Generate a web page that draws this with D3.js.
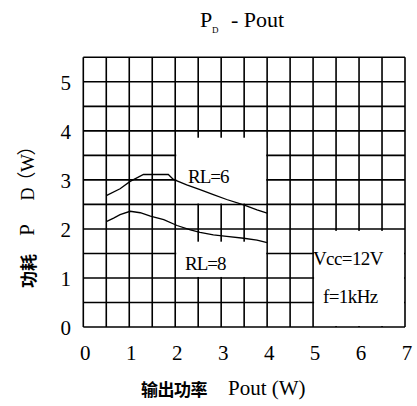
<!DOCTYPE html>
<html>
<head>
<meta charset="utf-8">
<script src="https://cdn.jsdelivr.net/npm/d3@7"></script>
</head>
<body style="margin:0;background:#fff">
<script>
// Power dissipation vs output power
const xTicks = [0, 1, 2, 3, 4, 5, 6, 7];
const yTicks = [0, 1, 2, 3, 4, 5];

const rl6X = [0.5, 0.8, 1.02, 1.31, 1.85, 1.96, 2.25, 2.54, 2.83, 3.12, 3.49, 3.78, 4.0];
const rl6Y = [2.68, 2.82, 2.97, 3.11, 3.11, 3.01, 2.90, 2.80, 2.70, 2.60, 2.49, 2.39, 2.32];

const rl8X = [0.5, 0.66, 0.8, 1.02, 1.24, 1.46, 1.75, 2.04, 2.33, 2.54, 2.83, 3.12, 3.49, 3.78, 4.0];
const rl8Y = [2.15, 2.22, 2.29, 2.36, 2.33, 2.26, 2.19, 2.07, 1.98, 1.93, 1.88, 1.85, 1.81, 1.77, 1.72];

// white boxes that hide part of the grid: [x0, x1, y0, y1]
const boxes = [
    [2, 4, 2.5, 3.86],
    [2, 4, 1.0, 1.74],
    [5, 7, 0, 1.96]
];

const SERIF = "'Times New Roman'";
const CJK = "'Noto Sans CJK SC'";

const width = 417, height = 406;
const svg = d3.select("body").append("svg")
    .attr("width", width)
    .attr("height", height);

const x = d3.scaleLinear().domain([0, 7]).range([83.3, 405]);
const y = d3.scaleLinear().domain([0, 5.5]).range([327, 57.3]);

const grid = svg.append("g").attr("stroke", "#000").attr("stroke-width", 1.6);

// vertical grid lines every 0.5 W
d3.range(0, 7.01, 0.5).forEach(v => {
    grid.append("line")
        .attr("x1", x(v)).attr("x2", x(v))
        .attr("y1", y(0)).attr("y2", y(5.5));
});
// horizontal grid lines every 0.5 W
d3.range(0, 5.51, 0.5).forEach(v => {
    grid.append("line")
        .attr("x1", x(0)).attr("x2", x(7))
        .attr("y1", y(v)).attr("y2", y(v));
});

// boxes (inset so the boundary gridlines stay)
boxes.forEach(b => {
    svg.append("rect")
        .attr("x", x(b[0]) + 1)
        .attr("width", x(b[1]) - x(b[0]) - 2)
        .attr("y", y(b[3]))
        .attr("height", y(b[2]) - y(b[3]) - 1)
        .attr("fill", "#fff");
});

// curves
const line = d3.line().x(d => x(d[0])).y(d => y(d[1]));
[[rl6X, rl6Y], [rl8X, rl8Y]].forEach(([xs, ys]) => {
    svg.append("path")
        .datum(xs.map((v, i) => [v, ys[i]]))
        .attr("d", line)
        .attr("fill", "none")
        .attr("stroke", "#000")
        .attr("stroke-width", 1.3);
});

// text helper
function label(px, py, size, txt, opts = {}) {
    const t = svg.append("text")
        .attr("font-family", opts.cjk ? CJK : SERIF)
        .attr("font-size", size)
        .text(txt);
    if (opts.rotate) t.attr("transform", `translate(${px},${py}) rotate(-90)`);
    else t.attr("x", px).attr("y", py);
    if (opts.cjk) t.attr("font-weight", 700);
    if (opts.anchor) t.attr("text-anchor", opts.anchor);
    if (opts.ls) t.attr("letter-spacing", opts.ls);
    return t;
}

// tick labels
yTicks.forEach(d => label(71, y(d) + 8, 21, String(d), { anchor: "end" }));
xTicks.forEach(d => label(x(d) + 2, 360, 21, String(d), { anchor: "middle" }));

// in-plot labels
label(188, 183, 19, "RL=6", { ls: -1 });
label(185, 270, 19, "RL=8", { ls: -1 });
label(313, 265, 19, "Vcc=12V", { ls: -0.6 });
label(323, 303, 19, "f=1kHz", { ls: -0.6 });

// title
label(200, 27, 22, "P");
label(212, 33, 9, "D");
label(231, 27, 22, "- Pout");

// x axis title
label(141, 396, 17, "输出功率", { cjk: true, ls: -0.5 });
label(228, 395, 21, "Pout (W)");

// y axis title, rotated
label(35, 271, 17, "功耗", { cjk: true, anchor: "middle", rotate: true });
label(34, 230, 21, "P", { anchor: "middle", rotate: true });
label(34, 194, 18, "D", { anchor: "middle", rotate: true });
label(34, 181, 19, "（", { cjk: true, anchor: "middle", rotate: true }).attr("font-weight", 400);
label(34, 163, 19, "W", { anchor: "middle", rotate: true });
label(34, 146, 19, "）", { cjk: true, anchor: "middle", rotate: true }).attr("font-weight", 400);
</script>
</body>
</html>
